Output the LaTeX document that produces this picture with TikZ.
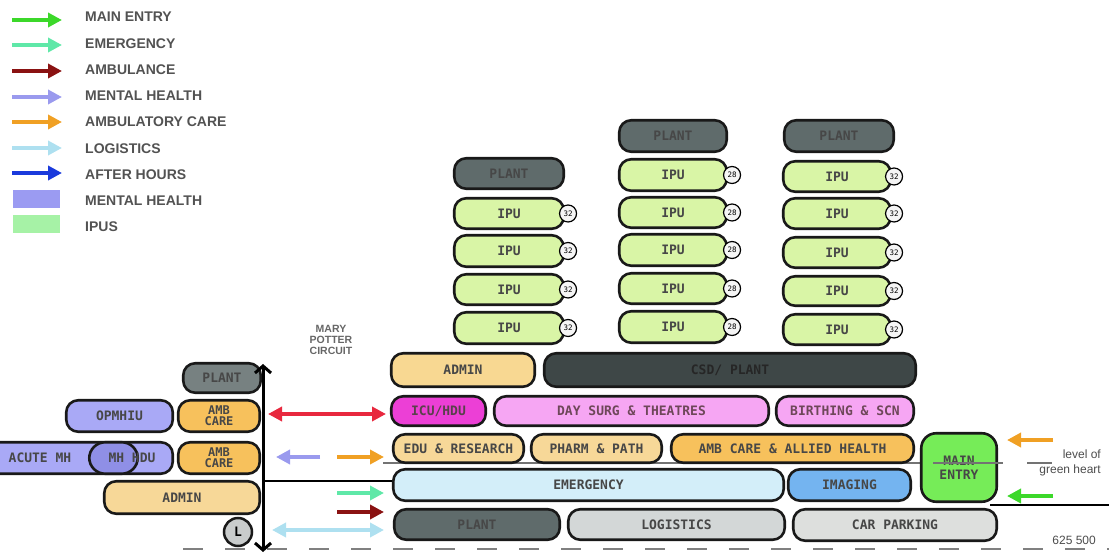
\documentclass[tikz,border=0pt]{standalone}
\usepackage{fontspec}
\setmainfont{Liberation Sans}
\newfontfamily\monof{DejaVu Sans Mono}
\usetikzlibrary{arrows.meta}
\definecolor{plantA}{HTML}{5F6B6B}
\definecolor{plantC}{HTML}{3E4747}
\definecolor{ipuC}{HTML}{D9F5A6}
\definecolor{adminC}{HTML}{F8D892}
\definecolor{icuC}{HTML}{EC3FD6}
\definecolor{dayC}{HTML}{F6A6F3}
\definecolor{eduC}{HTML}{F7D898}
\definecolor{ambC}{HTML}{F7C15C}
\definecolor{emerC}{HTML}{D3EEF9}
\definecolor{imagC}{HTML}{74B4F0}
\definecolor{mainC}{HTML}{76EC58}
\definecolor{logiC}{HTML}{D3D7D7}
\definecolor{carC}{HTML}{DDDFDD}
\definecolor{mhC}{HTML}{A9A9F6}
\definecolor{mhdC}{HTML}{8F8FE6}
\definecolor{lC}{HTML}{C9CCCC}
\definecolor{aMain}{HTML}{3CD82A}
\definecolor{aEmer}{HTML}{5FE8A8}
\definecolor{aAmbu}{HTML}{8A1212}
\definecolor{aMH}{HTML}{9A9AEE}
\definecolor{aAmbC}{HTML}{F0A024}
\definecolor{aLog}{HTML}{AEE0F0}
\definecolor{aAfter}{HTML}{1A3ADC}
\definecolor{aRed}{HTML}{E8283E}
\definecolor{legMH}{HTML}{9B9BF2}
\definecolor{legIPU}{HTML}{A6F2A6}
\newcommand\boxfont{\monof\bfseries\fontsize{13}{16}\selectfont}
\newcommand\badgefont{\monof\fontsize{7.5}{8}\selectfont}
\newcommand\legfont{\bfseries\fontsize{14}{16}\selectfont}
\newcommand\smallfont{\fontsize{12}{13}\selectfont}
\newcommand\rbox[7]{%
  \pgfmathsetmacro\rbw{#5-#3-2.5}%
  \pgfmathsetmacro\rbh{#6-#4-2.5}%
  \pgfmathsetmacro\rbx{(#3+#5)/2}%
  \pgfmathsetmacro\rby{(#4+#6)/2}%
  \node[box,#2,minimum width=\rbw pt,minimum height=\rbh pt] (#1) at (\rbx,\rby) {#7};}
\tikzset{
  box/.style={draw=black!90, line width=2.6pt, rounded corners=12pt, inner sep=0pt,
    font=\boxfont, text=black!72, align=center},
  badge/.style={circle, draw=black, line width=1.2pt, fill=black!4, minimum size=17pt,
    inner sep=0pt, font=\badgefont},
  flow/.style={line width=4.5pt, -{Triangle[length=14pt,width=14pt]}},
  flowtwo/.style={line width=4.5pt, {Triangle[length=14pt,width=14pt]}-{Triangle[length=14pt,width=14pt]}},
  leg/.style={anchor=west, font=\legfont, text=black!68, inner sep=0pt},
  note/.style={font=\smallfont, text=black!70, inner sep=0pt},
  lvl/.style={draw=black!55, line width=1.2pt},
}
\begin{document}
\begin{tikzpicture}[x=1pt,y=-1pt]
\useasboundingbox (0,0) rectangle (1109,553);
\clip (0,0) rectangle (1109,553);
% legend
\draw[flow,aMain] (12,20) coordinate (l1a) -- (62,20) coordinate (l1b);
\draw[flow,aEmer] (12,45) coordinate (l2a) -- (62,45) coordinate (l2b);
\draw[flow,aAmbu] (12,71) coordinate (l3a) -- (62,71) coordinate (l3b);
\draw[flow,aMH] (12,97) coordinate (l4a) -- (62,97) coordinate (l4b);
\draw[flow,aAmbC] (12,122) coordinate (l5a) -- (62,122) coordinate (l5b);
\draw[flow,aLog] (12,148) coordinate (l6a) -- (62,148) coordinate (l6b);
\draw[flow,aAfter] (12,173) coordinate (l7a) -- (62,173) coordinate (l7b);
\fill[legMH] (13,190) rectangle (60,208);
\fill[legIPU] (13,215) rectangle (60,233);
\node[leg] (t1) at (85,17) {MAIN ENTRY};
\node[leg] (t2) at (85,44) {EMERGENCY};
\node[leg] (t3) at (85,70) {AMBULANCE};
\node[leg] (t4) at (85,96) {MENTAL HEALTH};
\node[leg] (t5) at (85,122) {AMBULATORY CARE};
\node[leg] (t6) at (85,149) {LOGISTICS};
\node[leg] (t7) at (85,175) {AFTER HOURS};
\node[leg] (t8) at (85,201) {MENTAL HEALTH};
\node[leg] (t9) at (85,227) {IPUS};
% ground dashed line and level line
\draw[black!50, line width=2pt, dash pattern=on 20pt off 22pt] (183,549) coordinate (g1) -- (1109,549) coordinate (g2);
\draw[lvl] (383,463) coordinate (lv1) -- (1003,463) coordinate (lv2);
\draw[lvl] (1027,463) coordinate (lv3) -- (1052,463) coordinate (lv4);
% mary potter
\node[note, align=center, text=black!60, font=\bfseries\fontsize{10.5}{12}\selectfont] (mpc) at (331,340) {MARY\\[-1pt]POTTER\\[-1pt]CIRCUIT};
% IPU towers
\rbox{pl1}{fill=plantA}{453}{157}{565}{190}{PLANT}
\rbox{pl2}{fill=plantA}{618}{119}{728}{153}{PLANT}
\rbox{pl3}{fill=plantA}{783}{119}{895}{153}{PLANT}
\rbox{ia1}{fill=ipuC}{453}{197}{565}{230}{IPU}
\rbox{ia2}{fill=ipuC}{453}{234}{565}{268}{IPU}
\rbox{ia3}{fill=ipuC}{453}{273}{565}{306}{IPU}
\rbox{ia4}{fill=ipuC}{453}{311}{565}{345}{IPU}
\rbox{ib1}{fill=ipuC}{618}{158}{728}{192}{IPU}
\rbox{ib2}{fill=ipuC}{618}{196}{728}{229}{IPU}
\rbox{ib3}{fill=ipuC}{618}{233}{728}{267}{IPU}
\rbox{ib4}{fill=ipuC}{618}{272}{728}{305}{IPU}
\rbox{ib5}{fill=ipuC}{618}{310}{728}{344}{IPU}
\rbox{ic1}{fill=ipuC}{782}{160}{892}{193}{IPU}
\rbox{ic2}{fill=ipuC}{782}{197}{892}{230}{IPU}
\rbox{ic3}{fill=ipuC}{782}{236}{892}{269}{IPU}
\rbox{ic4}{fill=ipuC}{782}{275}{892}{307}{IPU}
\rbox{ic5}{fill=ipuC}{782}{313}{892}{346}{IPU}
\foreach \n in {1,...,4} \node[badge] (ba\n) at ([xshift=3pt]ia\n.east) {32};
\foreach \n in {1,...,5} \node[badge] (bb\n) at ([xshift=4pt]ib\n.east) {28};
\foreach \n in {1,...,5} \node[badge] (bc\n) at ([xshift=2pt]ic\n.east) {32};
% main block
\rbox{admin}{fill=adminC}{390}{352}{536}{388}{ADMIN}
\rbox{csd}{fill=plantC, text=black!85}{543}{352}{917}{388}{CSD/ PLANT}
\rbox{icu}{fill=icuC, text=black!75!magenta}{390}{395}{487}{427}{ICU/HDU}
\rbox{day}{fill=dayC, text=black!65!magenta}{493}{395}{770}{427}{DAY SURG \& THEATRES}
\rbox{birth}{fill=dayC, text=black!65!magenta}{775}{395}{915}{427}{BIRTHING \& SCN}
\rbox{edu}{fill=eduC}{392}{433}{525}{464}{EDU \& RESEARCH}
\rbox{pharm}{fill=eduC}{530}{433}{663}{464}{PHARM \& PATH}
\rbox{amb}{fill=ambC}{670}{433}{915}{464}{AMB CARE \& ALLIED HEALTH}
\rbox{emer}{fill=emerC}{392}{468}{785}{502}{EMERGENCY}
\rbox{imag}{fill=imagC}{787}{468}{912}{502}{IMAGING}
\rbox{mainent}{fill=mainC, rounded corners=15pt}{920}{432}{998}{503}{MAIN\\[-2pt]ENTRY}
\draw[lvl] (933,463) coordinate (lv5) -- (1003,463) coordinate (lv6);
\rbox{plb}{fill=plantA}{393}{508}{561}{541}{PLANT}
\rbox{logi}{fill=logiC}{567}{508}{786}{541}{LOGISTICS}
\rbox{car}{fill=carC}{792}{508}{998}{542}{CAR PARKING}
% left block
\rbox{pll}{fill=plantA!85!white}{182}{362}{262}{394}{PLANT}
\rbox{opm}{fill=mhC}{65}{399}{174}{433}{OPMHIU}
\rbox{ambl1}{fill=ambC, font=\monof\bfseries\fontsize{12}{14}\selectfont}{177}{399}{261}{433}{AMB\\[-3pt]CARE}
\rbox{acute}{fill=mhC}{-30}{441}{174}{475}{}
\rbox{mhhdu}{fill=mhdC, rounded corners=16pt}{88}{441}{139}{475}{}
\node[font=\boxfont, text=black!72] (acutet) at (40,458) {ACUTE MH};
\node[font=\boxfont, text=black!72] (mhhdut) at (132,458) {MH HDU};
\rbox{ambl2}{fill=ambC, font=\monof\bfseries\fontsize{12}{14}\selectfont}{177}{441}{261}{475}{AMB\\[-3pt]CARE}
\rbox{adminl}{fill=eduC}{103}{480}{261}{515}{ADMIN}
\node[circle, draw=black!90, line width=2.5pt, fill=lC, minimum size=28pt, inner sep=0pt,
  font=\boxfont] (L) at (238,532) {L};
% black circuit lines
\draw[line width=3pt, {Straight Barb[length=7pt,width=16pt]}-{Straight Barb[length=7pt,width=16pt]}]
  (263,364) coordinate (va) -- (263,552) coordinate (vb);
\draw[line width=2.5pt] (263,481) coordinate (h1) -- (emer.west |- 0,481);
\draw[line width=2.5pt] (990,505) coordinate (h3) -- (1109,505) coordinate (h4);
% flow arrows
\draw[flowtwo,aRed] (268,414) coordinate (r1) -- (386,414) coordinate (r2);
\draw[flow,aMH] (320,457) coordinate (m1) -- (276,457) coordinate (m2);
\draw[flow,aAmbC] (337,457) coordinate (o1) -- (384,457) coordinate (o2);
\draw[flow,aEmer] (337,493) coordinate (e1) -- (384,493) coordinate (e2);
\draw[flow,aAmbu] (337,512) coordinate (u1) -- (384,512) coordinate (u2);
\draw[flowtwo,aLog] (272,530) coordinate (s1) -- (384,530) coordinate (s2);
\draw[flow,aAmbC] (1053,440) coordinate (o3) -- (1007,440) coordinate (o4);
\draw[flow,aMain] (1053,496) coordinate (g3) -- (1007,496) coordinate (g4);
% notes
\node[note, anchor=east] (lvt1) at (1101,454) {level of};
\node[note, anchor=east] (lvt2) at (1101,470) {green heart};
\node[note, anchor=east] (num) at (1096,540) {625 500};
\end{tikzpicture}
\end{document}
